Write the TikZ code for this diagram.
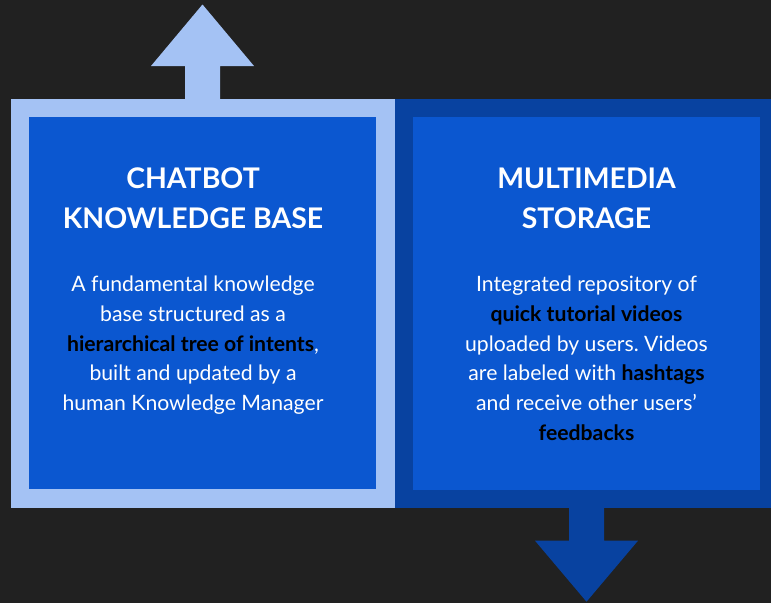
\documentclass[tikz,border=0pt]{standalone}
\usepackage{fontspec}
\setmainfont{Lato}
\usetikzlibrary{calc}
\definecolor{bgc}{HTML}{212121}
\definecolor{lightb}{HTML}{A4C2F4}
\definecolor{innerb}{HTML}{0B57D0}
\definecolor{darkb}{HTML}{0842A0}
\frenchspacing
\begin{document}
\begin{tikzpicture}[x=1pt,y=-1pt,
  box/.style={draw=none,inner sep=0,outer sep=0,anchor=north west},
  titletext/.style={text=white,align=center,anchor=base,inner sep=0,font=\fontsize{28.4}{40}\selectfont\bfseries},
  bodytext/.style={text=white,align=center,anchor=base,inner sep=0,font=\fontsize{21.2}{29.7}\selectfont}]
\newcommand{\kwd}[1]{\textcolor{black}{\textbf{#1}}}
\fill[bgc] (0,0) rectangle (771,603);
\useasboundingbox (0,0) rectangle (771,603);
% frames
\node[box,fill=lightb,minimum width=384,minimum height=409] (lframe) at (10.5,98.7) {};
\node[box,fill=darkb,minimum width=376.5,minimum height=409] (rframe) at (394.5,98.7) {};
\node[box,fill=innerb,minimum width=347,minimum height=372] (linner) at (29,117) {};
\node[box,fill=innerb,minimum width=347,minimum height=373] (rinner) at (413,117) {};
% arrows
\coordinate (ua) at (lframe.north);
\fill[lightb] ($(ua)+(-17.5,0.5)$) -- ++(0,-33.2) -- ++(-34,0) -- ($(ua)+(0,-94.2)$)
  -- ($(ua)+(51.5,-32.7)$) -- ++(-34,0) -- ($(ua)+(17.5,0.5)$) -- cycle;
\coordinate (db) at (rframe.south -| rinner.center);
\fill[darkb] ($(db)+(-17.5,-0.5)$) -- ++(0,33.5) -- ++(-34,0) -- ($(db)+(0,94)$)
  -- ($(db)+(51.5,33)$) -- ++(-34,0) -- ($(db)+(17.5,-0.5)$) -- cycle;
% texts (base anchor = last line baseline)
\node[titletext] (ltitle) at (193,228.3) {CHATBOT\\KNOWLEDGE BASE};
\node[titletext] (rtitle) at (586.5,228.3) {MULTIMEDIA\\STORAGE};
\node[bodytext] (lbody) at (193,410.5) {A fundamental knowledge\\base structured as a\\\kwd{hierarchical tree of intents},\\built and updated by a\\human Knowledge Manager};
\node[bodytext] (rbody) at (586.5,440.2) {Integrated repository of\\\kwd{quick tutorial videos}\\uploaded by users. Videos\\are labeled with \kwd{hashtags}\\and receive other users’\\\kwd{feedbacks}};
\end{tikzpicture}
\end{document}
